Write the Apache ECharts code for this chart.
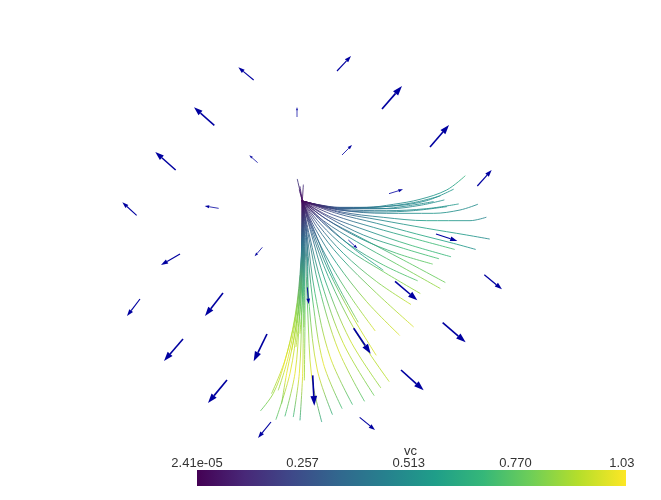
<!DOCTYPE html>
<html><head><meta charset="utf-8">
<style>html,body{margin:0;padding:0;background:#fff}#c{width:661px;height:500px}</style>
<script src="https://cdn.jsdelivr.net/npm/echarts@6/dist/echarts.min.js"></script>
</head><body><div id="c"></div>
<script>
// viridis colormap stops
const viridis = ['#440154','#482878','#3e4989','#31688e','#26828e','#1f9e89','#35b779','#6ece58','#b5de2b','#fde725'];
const colorbarName = 'vc';
const colorbarTicks = [2.41e-5, 0.2535, 0.5085, 0.7645, 1.02];
const colorbarLabels = ['2.41e-05', '0.257', '0.513', '0.770', '1.03'];
const colorbarRange = [2.41e-5, 1.03];

// streamlines: [x, y, vc]
const s01 = [[187,123,0],[230,133,.13],[300,142,.3],[380,142,.42],[460,133,.49],[540,118,.52],[620,90,.56],[675,48,.68]];
const s02 = [[187,123,0],[300,143,.3],[460,138,.47],[560,122,.5],[640,88,.55]];
const s03 = [[187,123,0],[300,146,.3],[450,146,.46],[540,136,.5],[612,120,.52]];
const s04 = [[187,123,0],[300,148,.28],[440,152,.46],[560,146,.52],[655,132,.55]];
const s05 = [[187,123,0],[300,150,.28],[440,160,.46],[580,160,.54],[660,150,.5],[713,133,.5]];
const s06 = [[187,123,0],[300,155,.27],[430,172,.48],[560,182,.58],[690,182,.52],[738,172,.45]];
const s07 = [[187,123,0],[300,158,.27],[420,180,.47],[560,205,.6],[680,225,.55],[748,237,.47]];
const s08 = [[187,123,0],[290,160,.26],[410,190,.48],[530,222,.62],[640,250,.58],[706,268,.5]];
const s09 = [[187,123,0],[280,165,.25],[400,202,.5],[520,235,.68],[643,268,.72]];
const s10 = [[187,123,0],[270,170,.24],[390,215,.5],[510,255,.7],[632,290,.68]];
const s11 = [[187,123,0],[265,172,.24],[370,225,.48],[490,265,.7],[596,296,.72]];
const s12 = [[187,123,0],[260,178,.25],[360,235,.5],[470,280,.72],[577,312,.78]];
const s13 = [[187,123,0],[255,175,.25],[360,232,.52],[490,300,.76],[615,367,.8]];
const s14 = [[187,123,0],[250,182,.26],[350,245,.55],[470,312,.78],[600,385,.88]];
const s15 = [[187,123,0],[245,185,.27],[330,255,.52],[430,315,.72],[532,362,.75]];
const s16 = [[187,123,0],[240,190,.28],[320,265,.55],[430,335,.8],[540,400,.88]];
const s17 = [[187,123,0],[235,195,.28],[310,280,.55],[410,365,.82],[512,433,.95]];
const s18 = [[187,123,0],[230,200,.3],[300,290,.55],[410,400,.85],[520,500,.98]];
const s19 = [[187,123,0],[225,205,.3],[290,310,.58],[380,425,.88],[478,525,.98]];
const s20 = [[187,123,0],[220,210,.3],[270,310,.55],[335,415,.82],[405,512,.98]];
const s21 = [[187,123,0],[217,210,.3],[265,330,.6],[335,465,.92],[408,585,.98]];
const s22 = [[187,123,0],[215,215,.31],[265,350,.62],[350,520,.92],[447,664,.92]];
const s23 = [[187,123,0],[212,215,.31],[255,360,.62],[330,540,.95],[422,683,.85]];
const s24 = [[187,123,0],[208,225,.33],[245,370,.65],[310,550,.95],[402,706,.78]];
const s25 = [[187,123,0],[205,225,.33],[238,385,.68],[295,570,.98],[373,723,.72]];
const s26 = [[187,123,0],[202,230,.34],[225,400,.7],[270,590,.98],[337,733,.68]];
const s27 = [[187,123,0],[200,240,.36],[218,420,.72],[250,610,1],[306,745,.68]];
const s28 = [[187,123,0],[197,240,.36],[208,440,.75],[232,630,1],[277,763,.62]];
const s29 = [[187,123,0],[195,250,.38],[203,450,.78],[215,650,1],[245,785,.58]];
const s30 = [[187,123,0],[193,260,.4],[195,450,.78],[193,660,.9]];
const s31 = [[187,123,0],[191,260,.4],[190,460,.8],[188,640,1],[180,780,.6]];
const s32 = [[187,123,0],[190,270,.4],[185,470,.8],[178,640,1],[160,770,.65]];
const s33 = [[187,123,0],[188,280,.42],[178,480,.85],[165,640,1],[135,768,.68]];
const s34 = [[187,123,0],[187,290,.44],[172,490,.88],[150,640,1],[108,778,.72]];
const s35 = [[187,123,0],[186,300,.45],[168,500,.9],[140,640,1],[125,730,.78]];
const s36 = [[187,123,0],[183,300,.47],[165,470,.88],[130,620,1],[100,700,.86],[62,752,.75]];
const s37 = [[187,123,0],[172,58,.2]];
const s38 = [[187,123,0],[180,80,.14]];
const s39 = [[187,123,0],[190,75,.16]];
const s40 = [[187,123,0],[178,90,.1]];
const s41 = [[187,123,0],[184,300,.46],[168,460,.86],[135,600,1],[95,700,.85]];
const s42 = [[187,123,0],[185,280,.43],[171,450,.84],[145,590,1],[115,690,.85]];
const s43 = [[187,123,0],[186,260,.4],[176,440,.8],[155,570,.98]];
const s44 = [[187,123,0],[188,250,.38],[182,430,.78],[168,560,.95]];
const s45 = [[187,123,0],[190,240,.36],[188,400,.7],[180,520,.92]];
const s46 = [[187,123,0],[192,220,.3],[193,380,.66],[192,500,.86]];
const s47 = [[187,123,0],[300,144,.3],[420,141,.44],[520,128,.5],[600,108,.53]];
const s48 = [[187,123,0],[300,145,.3],[420,146,.44],[500,138,.49],[580,125,.51]];
const s49 = [[187,123,0],[300,150,.28],[420,156,.45],[520,152,.5],[620,140,.52]];
const s50 = [[187,123,0],[198,200,.26],[203,320,.55],[204,420,.75]];
const s51 = [[187,123,0],[222,210,.3],[280,350,.6],[354,486,.85]];
const s52 = [[187,123,0],[255,190,.28],[340,265,.55],[429,330,.62]];
const streams = [s01,s02,s03,s04,s05,s06,s07,s08,s09,s10,s11,s12,s13,s14,s15,s16,s17,s18,s19,s20,
                 s21,s22,s23,s24,s25,s26,s27,s28,s29,s30,s31,s32,s33,s34,s35,s36,s37,s38,s39,s40,
                 s41,s42,s43,s44,s45,s46,s47,s48,s49,s50,s51,s52];

// arrows: tail and tip, same units as the streamlines
const arrowTails = [[291,-267],[41,-240],[426,-153],[-77,-104],[171,-129],[570,-39],[-193,30],[53,8],[-310,166],[-64,145],[306,-15],[447,101],[712,78],[588,222],[325,240],[67,262],[-180,282],[733,344],[465,364],[202,382],[-300,417],[-51,399],[608,488],[341,505],[81,522],[-171,537],[483,630],[218,646],[-39,660],[93,786],[359,772]];
const arrowTips  = [[333,-312],[-5,-278],[486,-222],[-138,-158],[171,-159],[627,-105],[-254,-24],[28,-14],[-353,127],[-106,138],[336,-45],[489,88],[755,30],[652,243],[352,265],[44,289],[-237,315],[786,388],[532,421],[206,432],[-339,468],[-105,468],[677,547],[392,581],[41,604],[-228,603],[551,691],[223,737],[-96,729],[54,834],[405,810]];

function hexToRgb(h){return [1,3,5].map(i=>parseInt(h.substr(i,2),16));}
function vcColor(v){
  const t=Math.max(0,Math.min(1,v/1.03))*(viridis.length-1);
  const i=Math.min(Math.floor(t),viridis.length-2),f=t-i;
  const a=hexToRgb(viridis[i]),b=hexToRgb(viridis[i+1]);
  return 'rgb('+a.map((c,k)=>Math.round(c+(b[k]-c)*f)).join(',')+')';
}
function streamGradient(pts){
  const first=pts[0],last=pts[pts.length-1];
  const k=Math.abs(last[0]-first[0])>Math.abs(last[1]-first[1])?0:1;
  const lo=Math.min(...pts.map(p=>p[k])),hi=Math.max(...pts.map(p=>p[k]));
  const stops=[];
  pts.forEach(p=>{stops.push({offset:(p[k]-lo)/((hi-lo)||1),color:vcColor(p[2])});});
  stops.sort((a,b)=>a.offset-b.offset);
  const g={type:'linear',x:0,y:0,x2:0,y2:0,colorStops:stops,global:false};
  if(k===0){g.x2=1;} else {g.y2=1;}
  return g;
}
const lineSeries=streams.map(pts=>({
  type:'line',xAxisIndex:0,yAxisIndex:0,data:pts.map(p=>[p[0],p[1]]),smooth:0.35,
  showSymbol:false,silent:true,animation:false,clip:false,
  lineStyle:{width:0.85,color:streamGradient(pts),cap:'round'},z:2
}));
const arrowData=arrowTails.map((t,i)=>[t[0],t[1],arrowTips[i][0],arrowTips[i][1]]);
const arrowSeries={
  type:'custom',xAxisIndex:0,yAxisIndex:0,data:arrowData,silent:true,animation:false,z:3,clip:false,
  encode:{x:[0,2],y:[1,3]},
  renderItem:(params,api)=>{
    const a=api.coord([api.value(0),api.value(1)]),b=api.coord([api.value(2),api.value(3)]);
    const dx=b[0]-a[0],dy=b[1]-a[1],len=Math.hypot(dx,dy),ux=dx/len,uy=dy/len;
    const hl=len*0.32,hw=len*0.11;
    const bx=b[0]-ux*hl,by=b[1]-uy*hl;
    const col='#0000a0';
    const op=Math.min(1,0.5+len/25);
    return {type:'group',children:[
      {type:'line',shape:{x1:a[0],y1:a[1],x2:bx,y2:by},style:{stroke:col,lineWidth:Math.max(0.8,len*0.055),opacity:op}},
      {type:'polygon',shape:{points:[[b[0],b[1]],[bx-uy*hw,by+ux*hw],[bx+uy*hw,by-ux*hw]]},style:{fill:col,opacity:op}}
    ]};
  }
};
const barSeries={
  type:'custom',xAxisIndex:1,yAxisIndex:1,silent:true,animation:false,
  data:[[colorbarRange[0],colorbarRange[1]]],encode:{x:[0,1]},
  renderItem:(params,api)=>{
    const a=api.coord([api.value(0),1]),b=api.coord([api.value(1),0]);
    return {type:'rect',shape:{x:a[0],y:a[1],width:b[0]-a[0],height:b[1]-a[1]},
      style:{fill:{type:'linear',x:0,y:0,x2:1,y2:0,global:false,
        colorStops:viridis.map((c,i)=>({offset:i/(viridis.length-1),color:c}))}}};
  }
};
const chart=echarts.init(document.getElementById('c'),null,{renderer:'canvas'});
chart.setOption({
  animation:false,backgroundColor:'#fff',
  title:{text:colorbarName,left:404,top:445,padding:0,textStyle:{color:'#333',fontFamily:'Liberation Sans',fontSize:13,fontWeight:'normal'}},
  grid:[{left:0,right:0,top:0,bottom:0,containLabel:false},{left:197,top:470,width:429,height:16,containLabel:false}],
  xAxis:[
    {type:'value',gridIndex:0,min:-720,max:1263,show:false},
    {type:'value',gridIndex:1,position:'top',min:colorbarRange[0],max:colorbarRange[1],
     axisLine:{show:false},axisTick:{show:false},splitLine:{show:false},
     axisLabel:{show:true,margin:0,color:'#333',fontFamily:'Liberation Sans',fontSize:13,hideOverlap:false,
       customValues:colorbarTicks,
       formatter:v=>{const i=colorbarTicks.findIndex(t=>Math.abs(t-v)<1e-6);return i>=0?colorbarLabels[i]:'';}}}
  ],
  yAxis:[
    {type:'value',gridIndex:0,min:-480,max:1020,inverse:true,show:false},
    {type:'value',gridIndex:1,min:0,max:1,show:false}
  ],
  series:[...lineSeries,arrowSeries,barSeries]
});
</script></body></html>
